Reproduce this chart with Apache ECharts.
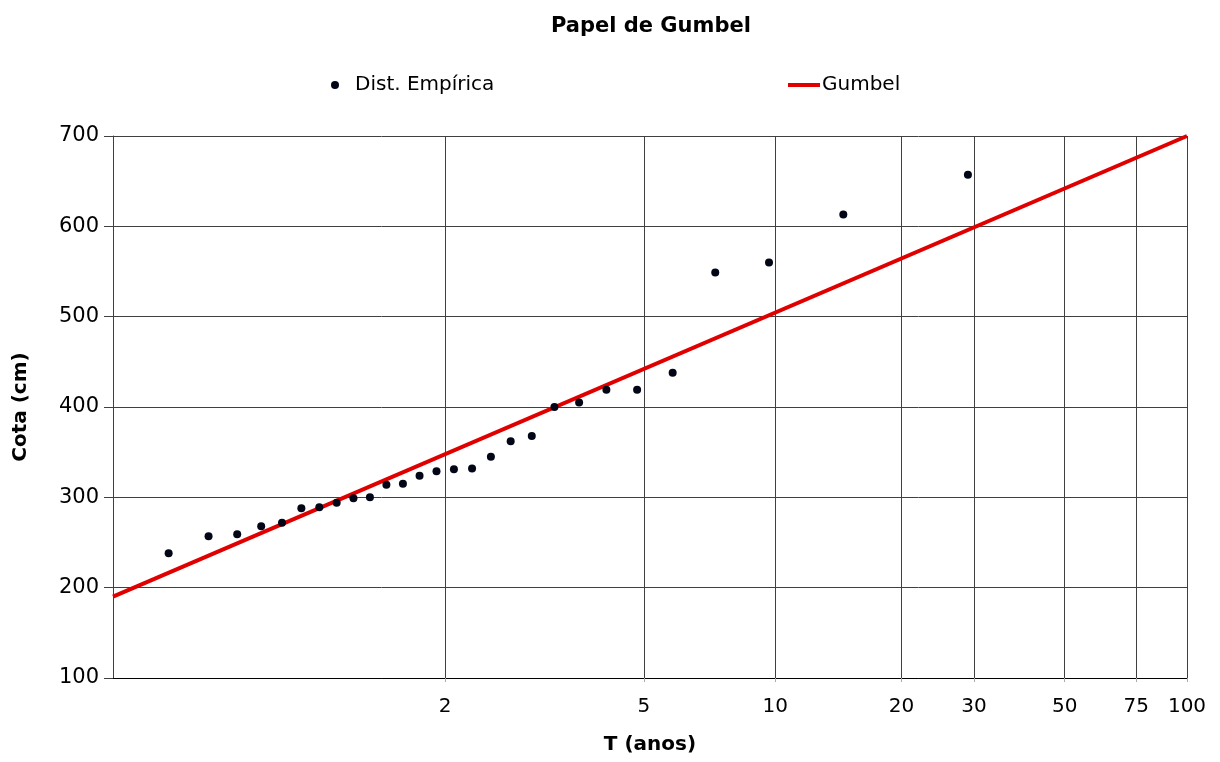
<!DOCTYPE html>
<html>
<head>
<meta charset="utf-8">
<script src="https://cdn.jsdelivr.net/npm/echarts@6/dist/echarts.min.js"></script>
<style>
  html, body { margin: 0; padding: 0; background: #fff; }
  #main { width: 1220px; height: 762px; }
</style>
</head>
<body>
<div id="main"></div>
<script>
// periodos de retorno (Weibull, n = 28) e cotas observadas, ordem crescente
var empT = [1.036, 1.074, 1.115, 1.16, 1.208, 1.261, 1.318, 1.381, 1.45, 1.526,
  1.611, 1.706, 1.8125, 1.933, 2.071, 2.231, 2.417, 2.636, 2.9, 3.222,
  3.625, 4.143, 4.833, 5.8, 7.25, 9.667, 14.5, 29];
var empCota = [238, 257, 259, 268, 272, 288, 289, 294, 299, 300,
  314, 315, 324, 329, 331, 332, 345, 362, 368, 400,
  405, 419, 419, 438, 549, 560, 613, 657];

// reta de Gumbel
var gumbelT = [1.01, 100];
var gumbelCota = [190, 700];

// marcas do eixo T
var tickT = [2, 5, 10, 20, 30, 50, 75, 100];
var tMin = 1.01;
var tMax = 100;

// variavel reduzida de Gumbel
function rv(T) {
  return -Math.log(-Math.log(1 - 1 / T));
}

var font = "DejaVu Sans";
var tickRv = tickT.map(rv);

var myChart = echarts.init(document.getElementById("main"));
myChart.setOption({
  animation: false,
  backgroundColor: "#fff",
  textStyle: { fontFamily: font },
  title: {
    text: "Papel de Gumbel",
    left: 546,
    top: 11,
    textStyle: { fontFamily: font, fontSize: 21, fontWeight: "bold", color: "#000" }
  },
  legend: [
    {
      data: ["Dist. Empírica"],
      left: 326,
      top: 70,
      icon: "circle",
      itemWidth: 8,
      itemHeight: 8,
      textStyle: { fontFamily: font, fontSize: 20, color: "#000", padding: [0, 0, 0, 11] }
    },
    {
      data: ["Gumbel"],
      left: 783,
      top: 70,
      icon: "rect",
      itemWidth: 32,
      itemHeight: 4,
      textStyle: { fontFamily: font, fontSize: 20, color: "#000", padding: [0, 0, 0, -3] }
    }
  ],
  grid: { left: 113, right: 33, top: 136, bottom: 84, containLabel: false },
  xAxis: {
    type: "value",
    min: rv(tMin),
    max: rv(tMax),
    name: "T (anos)",
    nameLocation: "middle",
    nameGap: 57,
    nameTextStyle: { fontFamily: font, fontSize: 20, fontWeight: "bold", color: "#000" },
    axisLine: { show: true, onZero: false, lineStyle: { color: "#000", width: 1 } },
    axisTick: { show: true, length: 4, customValues: tickRv, lineStyle: { color: "#aaa" } },
    axisLabel: {
      customValues: tickRv,
      margin: 19,
      fontSize: 20,
      color: "#000",
      fontFamily: font,
      formatter: function (v) {
        var best = 0;
        for (var i = 1; i < tickRv.length; i++) {
          if (Math.abs(tickRv[i] - v) < Math.abs(tickRv[best] - v)) best = i;
        }
        return String(tickT[best]);
      }
    },
    splitLine: { show: true, lineStyle: { color: "#404040", width: 1 } }
  },
  yAxis: {
    type: "value",
    min: 100,
    max: 700,
    interval: 100,
    name: "Cota (cm)",
    nameLocation: "middle",
    nameGap: 82,
    nameTextStyle: { fontFamily: font, fontSize: 20, fontWeight: "bold", color: "#000" },
    axisLine: { show: true, onZero: false, lineStyle: { color: "#404040", width: 1 } },
    axisTick: { show: true, length: 9, lineStyle: { color: "#404040" } },
    axisLabel: { margin: 14, fontSize: 21, color: "#000", fontFamily: font },
    splitLine: { show: true, lineStyle: { color: "#404040", width: 1 } }
  },
  series: [
    {
      name: "Gumbel",
      type: "line",
      data: gumbelT.map(function (t, i) { return [rv(t), gumbelCota[i]]; }),
      showSymbol: false,
      symbol: "none",
      color: "#e00000",
      lineStyle: { color: "#e00000", width: 4 },
      z: 2
    },
    {
      name: "Dist. Empírica",
      type: "scatter",
      data: empT.map(function (t, i) { return [rv(t), empCota[i]]; }),
      symbol: "circle",
      symbolSize: 8,
      color: "#020617",
      itemStyle: { color: "#020617", opacity: 1 },
      z: 3
    }
  ]
});
</script>
</body>
</html>
